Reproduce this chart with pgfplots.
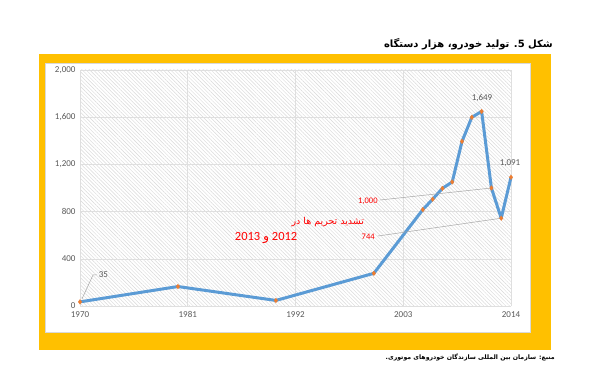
\documentclass[border=0pt]{standalone}
\usepackage{pgfplots}
\pgfplotsset{compat=1.18}
\usetikzlibrary{patterns.meta}
\usepackage{fontspec}
\setmainfont{Carlito}
\newfontfamily\arabicfont[Script=Arabic]{DejaVu Sans}
\TeXXeTstate=1
\definecolor{frameorange}{HTML}{FFC000}
\definecolor{lineblue}{HTML}{5B9BD5}
\definecolor{markorange}{HTML}{ED7D31}
\definecolor{ticktext}{HTML}{595959}
\begin{document}
\begin{tikzpicture}[x=1pt,y=1pt]
\path[use as bounding box] (0,0) rectangle (600,370);
\fill[frameorange] (39,20) rectangle (551,316);
\filldraw[fill=white,draw=gray!30,line width=0.5pt] (45,38) rectangle (530,307);
\node[anchor=east,inner sep=0pt] at (553,325.5) {\arabicfont\bfseries\fontsize{10}{12}\selectfont\beginR شکل 5. تولید خودرو، هزار دستگاه\endR};
\node[anchor=east,inner sep=0pt] at (555,13) {\arabicfont\bfseries\fontsize{6.2}{7.5}\selectfont\beginR منبع: سازمان بین المللی سازندگان خودروهای موتوری.\endR};
\begin{axis}[
  at={(80pt,64pt)}, anchor=south west,
  scale only axis, width=431pt, height=236pt,
  xmin=1970, xmax=2014, ymin=0, ymax=2000,
  xtick={1970,1981,1992,2003,2014},
  ytick={0,400,800,1200,1600,2000},
  grid=major,
  major grid style={draw=gray!25,line width=0.6pt},
  axis line style={draw=none},
  tick style={draw=none},
  axis background/.style={pattern={Lines[angle=-45,distance=2.6pt,line width=0.45pt]},pattern color=gray!30},
  ticklabel style={font=\fontsize{9}{10}\selectfont, text=ticktext},
  /pgf/number format/assume math mode=true,
  yticklabel style={/pgf/number format/1000 sep={,}, xshift=-1pt},
  xticklabel style={/pgf/number format/1000 sep={}, yshift=-2pt},
  clip=false,
]
\addplot[color=lineblue, line width=3pt, line join=round,
  mark=diamond*, mark size=2.4pt,
  mark options={fill=markorange, draw=markorange, line width=0.2pt}]
  coordinates {
  (1970,35) (1980,165) (1990,47) (2000,277) (2005,817) (2006,905)
  (2007,997) (2008,1051) (2009,1395) (2010,1599) (2011,1649)
  (2012,1000) (2013,744) (2014,1091)
  };
\draw[gray!70,line width=0.5pt] (axis cs:1970.2,60) -- (axis cs:1971.33,263) -- (axis cs:1971.74,263);
\node[anchor=west,inner sep=1pt,text=ticktext,font=\fontsize{9}{10}\selectfont] at (axis cs:1971.8,263) {35};
\node[text=ticktext,font=\fontsize{9}{10}\selectfont,inner sep=0pt] at (axis cs:2011.04,1763) {1,649};
\node[text=ticktext,font=\fontsize{9}{10}\selectfont,inner sep=0pt] at (axis cs:2013.9,1212) {1,091};
\draw[gray!70,line width=0.5pt] (axis cs:2000.6,898) -- (axis cs:2012,1000);
\draw[gray!70,line width=0.5pt] (axis cs:2000.4,593) -- (axis cs:2013,744);
\node[anchor=east,text=red,font=\fontsize{8.5}{10}\selectfont,inner sep=0pt] at (axis cs:2000.4,890) {1,000};
\node[anchor=east,text=red,font=\fontsize{8.5}{10}\selectfont,inner sep=0pt] at (axis cs:2000.1,585) {744};
\node[text=red,inner sep=0pt] at (axis cs:1995.3,712) {\arabicfont\fontsize{9.5}{11}\selectfont\beginR تشدید تحریم ها در\endR};
\node[text=red,inner sep=0pt] at (axis cs:1989,576) {\fontsize{12.5}{14}\selectfont 2013 {\arabicfont و} 2012};
\end{axis}
\end{tikzpicture}
\end{document}
